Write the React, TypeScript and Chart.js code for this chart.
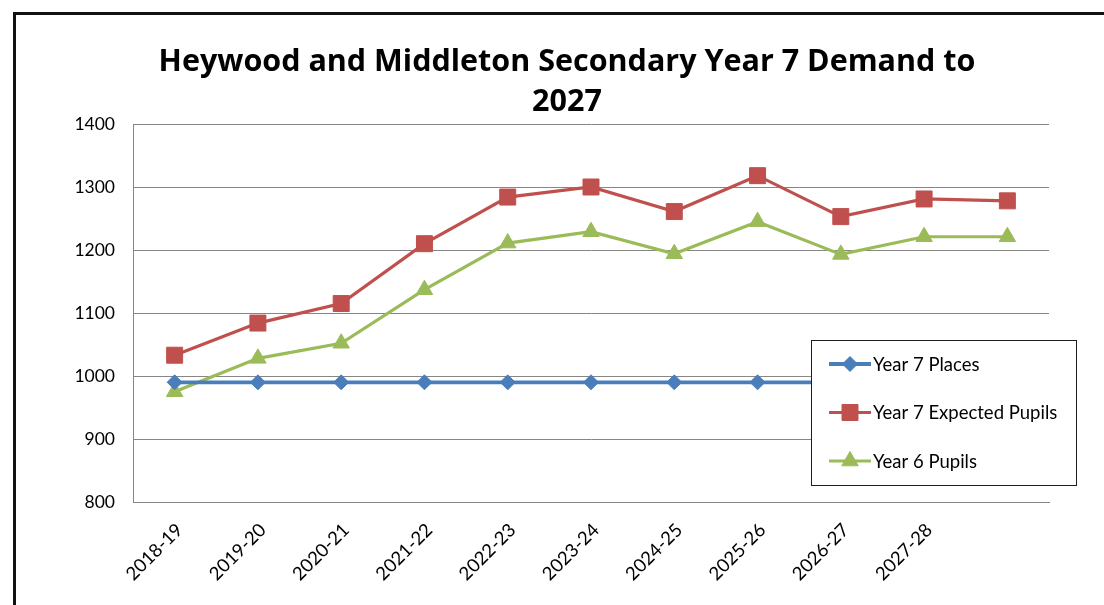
import React, { useEffect, useRef } from "react";
import { Chart, registerables } from "chart.js";

Chart.register(...registerables);

const titleLines = ["Heywood and Middleton Secondary Year 7 Demand to", "2027"];
const categories = ["2018-19", "2019-20", "2020-21", "2021-22", "2022-23", "2023-24", "2024-25", "2025-26", "2026-27", "2027-28", ""];
const year7Places = [990, 990, 990, 990, 990, 990, 990, 990, 990, 990, 990];
const year7Expected = [1033, 1084, 1115, 1210, 1284, 1300, 1261, 1318, 1253, 1281, 1278];
const year6Pupils = [975, 1028, 1052, 1137, 1211, 1229, 1194, 1245, 1193, 1221, 1221];
const yMin = 800;
const yMax = 1400;
const yStep = 100;

const FONT = "Lato";
const TITLE_FONT = "'Open Sans'";

const centeredTitle = {
  id: "centeredTitle",
  afterDraw(chart: any) {
    const ctx = chart.ctx;
    const ca = chart.chartArea;
    const cx = (ca.left + ca.right) / 2 - 24;
    const y0 = ca.top - 62;
    ctx.save();
    ctx.fillStyle = "#000";
    ctx.font = `bold 30.5px ${TITLE_FONT}`;
    ctx.textAlign = "center";
    ctx.textBaseline = "middle";
    titleLines.forEach((line, i) => ctx.fillText(line, cx, y0 + i * 40));
    ctx.restore();
  },
};

function drawMarker(ctx: CanvasRenderingContext2D, style: string, r: number, x: number, y: number) {
  ctx.beginPath();
  if (style === "rectRot") {
    ctx.moveTo(x - r, y);
    ctx.lineTo(x, y - r);
    ctx.lineTo(x + r, y);
    ctx.lineTo(x, y + r);
  } else if (style === "rect") {
    const s = Math.SQRT1_2 * r;
    ctx.rect(x - s, y - s, 2 * s, 2 * s);
  } else if (style === "triangle") {
    const step = (2 * Math.PI) / 3;
    for (let k = 0; k < 3; k++) {
      const rad = k * step;
      const px = x + Math.sin(rad) * r;
      const py = y - Math.cos(rad) * r;
      if (k === 0) ctx.moveTo(px, py);
      else ctx.lineTo(px, py);
    }
  }
  ctx.closePath();
  ctx.fill();
  ctx.stroke();
}

const boxLegend = {
  id: "boxLegend",
  afterDraw(chart: any) {
    const ctx = chart.ctx;
    const ca = chart.chartArea;
    const left = ca.right - 238;
    const right = ca.right + 27;
    const top = ca.top + 216;
    const bottom = top + 145;
    ctx.save();
    ctx.fillStyle = "#ffffff";
    ctx.fillRect(left, top, right - left, bottom - top);
    ctx.strokeStyle = "#1e1e1e";
    ctx.lineWidth = 1;
    ctx.strokeRect(Math.round(left) + 0.5, Math.round(top) + 0.5, right - left, bottom - top);
    const rowGap = 48.5;
    const firstRow = top + 24;
    chart.data.datasets.forEach((ds: any, i: number) => {
      const y = firstRow + i * rowGap;
      const x0 = left + 18;
      const x1 = left + 60;
      ctx.strokeStyle = ds.borderColor;
      ctx.lineWidth = ds.borderWidth;
      ctx.beginPath();
      ctx.moveTo(x0, y);
      ctx.lineTo(x1, y);
      ctx.stroke();
      ctx.fillStyle = ds.backgroundColor;
      ctx.strokeStyle = ds.borderColor;
      ctx.lineWidth = 1;
      drawMarker(ctx, ds.pointStyle, ds.pointRadius, (x0 + x1) / 2, y);
      ctx.fillStyle = "#000";
      ctx.font = `18.5px ${FONT}`;
      ctx.textAlign = "left";
      ctx.textBaseline = "middle";
      ctx.fillText(ds.label, x1 + 2, y + 1);
    });
    ctx.restore();
  },
};

export default function App() {
  const ref = useRef<HTMLCanvasElement | null>(null);

  useEffect(() => {
    if (!ref.current) return;
    const chart = new Chart(ref.current, {
      type: "line",
      data: {
        labels: categories,
        datasets: [
          {
            label: "Year 7 Places",
            data: year7Places,
            borderColor: "#4A7EBB",
            backgroundColor: "#4A7EBB",
            borderWidth: 3.8,
            pointStyle: "rectRot",
            pointRadius: 7.5,
            pointHoverRadius: 7.5,
            pointBorderWidth: 1,
            tension: 0,
          },
          {
            label: "Year 7 Expected Pupils",
            data: year7Expected,
            borderColor: "#C0504D",
            backgroundColor: "#C0504D",
            borderWidth: 3.2,
            pointStyle: "rect",
            pointRadius: 11.3,
            pointHoverRadius: 11.3,
            pointBorderWidth: 1,
            tension: 0,
          },
          {
            label: "Year 6 Pupils",
            data: year6Pupils,
            borderColor: "#9BBB59",
            backgroundColor: "#9BBB59",
            borderWidth: 3.2,
            pointStyle: "triangle",
            pointRadius: 9.5,
            pointHoverRadius: 9.5,
            pointBorderWidth: 1,
            tension: 0,
          },
        ],
      },
      options: {
        responsive: false,
        animation: false,
        events: [],
        layout: { padding: { left: 0, right: 55, top: 109, bottom: 0 } },
        plugins: {
          legend: { display: false },
          tooltip: { enabled: false },
          title: { display: false },
        },
        scales: {
          x: {
            offset: true,
            grid: { display: false, drawTicks: false },
            border: { display: true, color: "#868686", width: 1 },
            ticks: {
              autoSkip: false,
              minRotation: 45,
              maxRotation: 45,
              padding: 17,
              labelOffset: 5,
              color: "#000",
              font: { family: FONT, size: 18.5 },
            },
            afterFit: (s: any) => {
              s.height = 103;
            },
          },
          y: {
            min: yMin,
            max: yMax,
            grid: { color: "#868686", lineWidth: 1, drawTicks: false },
            border: { display: true, color: "#868686", width: 1 },
            ticks: {
              stepSize: yStep,
              padding: 18,
              color: "#000",
              font: { family: FONT, size: 17.5 },
              callback: (v: any) => String(v),
            },
            afterFit: (s: any) => {
              s.width = 117;
            },
          },
        },
      },
      plugins: [centeredTitle, boxLegend],
    });
    return () => chart.destroy();
  }, []);

  return (
    <div style={{ position: "absolute", left: 0, top: 0, width: 1104, height: 605, overflow: "hidden", background: "#fff" }}>
      <div
        style={{
          position: "absolute",
          left: 13,
          top: 12,
          width: 1200,
          height: 700,
          borderTop: "3px solid #111",
          borderLeft: "3px solid #111",
        }}
      />
      <canvas ref={ref} width={1088} height={590} style={{ position: "absolute", left: 16, top: 15 }} />
    </div>
  );
}
